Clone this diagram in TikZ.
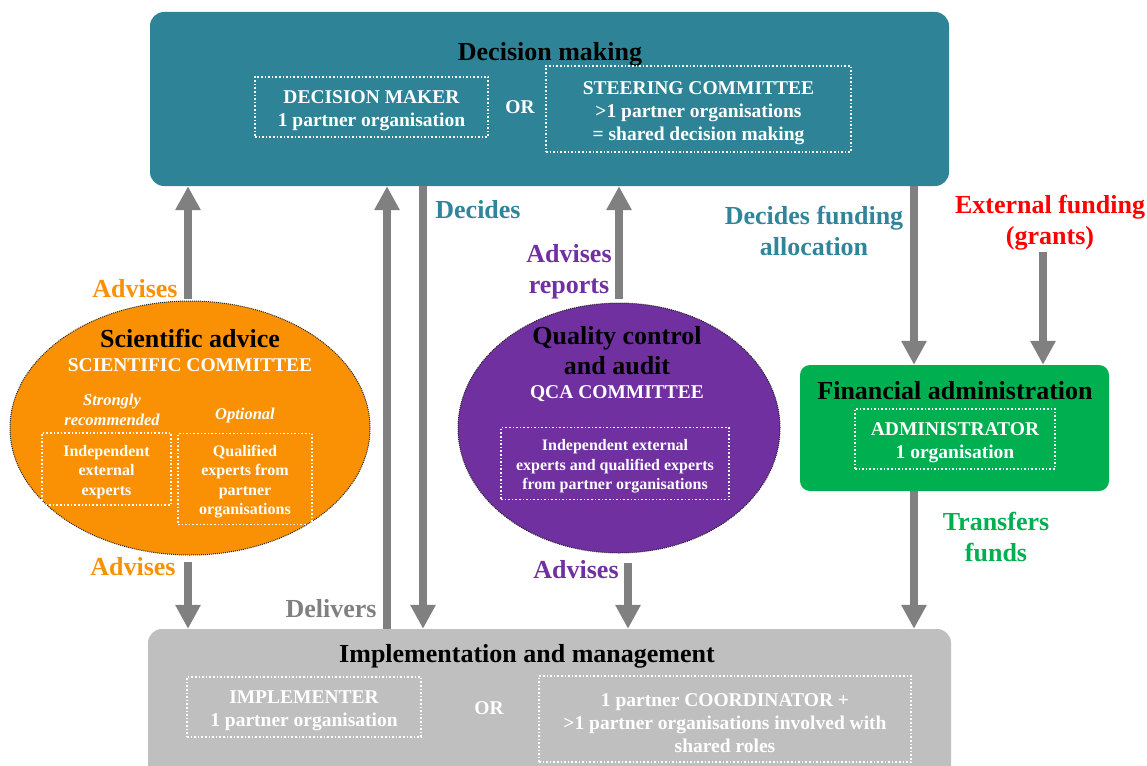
\documentclass[tikz,border=0pt]{standalone}
\usepackage{fontspec}
\setmainfont{Liberation Serif}
\usetikzlibrary{arrows.meta,shapes.geometric}

\definecolor{decteal}{RGB}{46,131,150}
\definecolor{labteal}{RGB}{49,133,155}
\definecolor{sciorange}{RGB}{250,145,5}
\definecolor{qcapurple}{RGB}{112,48,160}
\definecolor{fingreen}{RGB}{0,176,80}
\definecolor{impgray}{RGB}{191,191,191}
\definecolor{arrgray}{RGB}{128,128,128}

\newcommand\fsTitle{\fontsize{26}{30}\selectfont\bfseries}
\newcommand\fsSub{\fontsize{19.5}{23}\selectfont\bfseries}
\newcommand\fsSmall{\fontsize{16}{19.5}\selectfont\bfseries}
\newcommand\dbstrut{\rule{0pt}{1.05em}}

\tikzset{
  panel/.style={rounded corners=14pt, inner sep=0pt},
  blob/.style={ellipse, draw=black!85, dash pattern=on 1pt off 1pt, line width=1pt, inner sep=0pt},
  dotbox/.style={draw=white, line width=1.6pt, dash pattern=on 1.6pt off 2pt, text=white,
    align=center, inner sep=0pt},
  heading/.style={font=\fsTitle, align=center, text=black},
  sublabel/.style={font=\fsSub, align=center, text=white},
  flowlabel/.style={font=\fsTitle, align=center},
  flow/.style={draw=arrgray, line width=7.5pt, -{Triangle[width=24pt,length=24pt]}}
}

\begin{document}
\begin{tikzpicture}[x=1pt,y=-1pt]
\clip (0,0) rectangle (1147,765);

% decision making
\node[panel, fill=decteal, minimum width=799pt, minimum height=174pt] (decide) at (549.5,99) {};
\node[heading] (decidetitle) at (550,54) {Decision making};
\node[dotbox, font=\fsSub, minimum width=233pt, minimum height=60pt] (maker) at (371.5,107)
  {\dbstrut DECISION MAKER\\1 partner organisation};
\node[sublabel] (or1) at (520,107) {OR};
\node[dotbox, font=\fsSub, minimum width=305pt, minimum height=86pt] (steer) at (698.5,109)
  {\dbstrut STEERING COMMITTEE\\>1 partner organisations\\= shared decision making};

% implementation
\node[panel, fill=impgray, minimum width=803pt, minimum height=150pt] (implement) at (549.5,704) {};
\node[heading] (impltitle) at (527,656) {Implementation and management};
\node[dotbox, font=\fsSub, minimum width=234pt, minimum height=60pt] (implementer) at (304,707)
  {\dbstrut IMPLEMENTER\\1 partner organisation};
\node[sublabel] (or2) at (489,708) {OR};
\node[dotbox, font=\fsSub, minimum width=372pt, minimum height=86pt] (coord) at (725,719)
  {\dbstrut 1 partner COORDINATOR +\\>1 partner organisations involved with\\shared roles};

% scientific advice
\node[blob, fill=sciorange, minimum width=360pt, minimum height=254pt] (sci) at (190,428) {};
\node[heading] (scititle) at (190,338) {Scientific advice};
\node[sublabel] (scicom) at (190,365) {SCIENTIFIC COMMITTEE};
\node[font=\fontsize{16.5}{20}\selectfont\bfseries\itshape, text=white, align=center] (strong) at (112,410)
  {Strongly\\recommended};
\node[font=\fontsize{16.5}{20}\selectfont\bfseries\itshape, text=white] (optional) at (245,416) {Optional};
\node[dotbox, font=\fsSmall, minimum width=129pt, minimum height=72pt] (indep) at (106.5,469)
  {\dbstrut Independent\\external\\experts};
\node[dotbox, font=\fsSmall, minimum width=134pt, minimum height=91pt] (qualif) at (245,479)
  {\dbstrut Qualified\\experts from\\partner\\organisations};

% quality control
\node[blob, fill=qcapurple, minimum width=322pt, minimum height=250pt] (qca) at (619,428) {};
\node[heading] (qcatitle) at (617,351) {Quality control\\and audit};
\node[sublabel] (qcacom) at (617,394) {QCA COMMITTEE};
\node[dotbox, font=\fsSmall, minimum width=228pt, minimum height=72pt] (qcaexp) at (615,463.5)
  {\dbstrut Independent external\\experts and qualified experts\\from partner organisations};

% financial administration
\node[panel, rounded corners=10pt, fill=fingreen, minimum width=309pt, minimum height=126pt] (finance) at (954.5,428) {};
\node[heading] (fintitle) at (955,391) {Financial administration};
\node[dotbox, font=\fsSub, minimum width=200pt, minimum height=60pt] (admin) at (955,439)
  {\dbstrut ADMINISTRATOR\\1 organisation};

% labels
\node[flowlabel, text=sciorange] (advup) at (135,289) {Advises};
\node[flowlabel, text=sciorange] (advdown) at (133,567) {Advises};
\node[flowlabel, text=arrgray] (delivers) at (331,609) {Delivers};
\node[flowlabel, text=labteal] (decides) at (478,210) {Decides};
\node[flowlabel, text=qcapurple, font=\fontsize{26}{31}\selectfont\bfseries] (advrep) at (569,272) {Advises\\reports};
\node[flowlabel, text=qcapurple] (advqca) at (576,570) {Advises};
\node[flowlabel, text=labteal, font=\fontsize{26}{31}\selectfont\bfseries] (funding) at (814,231) {Decides funding\\allocation};
\node[flowlabel, text=red, font=\fontsize{26}{31}\selectfont\bfseries] (external) at (1050,223) {External funding\\(grants)};
\node[flowlabel, text=fingreen, font=\fontsize{26}{31}\selectfont\bfseries] (transfers) at (996,537) {Transfers\\funds};

% arrows
\coordinate (scitop) at (188,299);
\coordinate (scibot) at (188,562);
\coordinate (delx) at (387,0);
\coordinate (decx) at (423,0);
\coordinate (qcatop) at (619,299);
\coordinate (qcabot) at (628,563);
\coordinate (fundx) at (914,0);
\coordinate (grant) at (1043,252);
\draw[flow] (scitop) -- (scitop |- decide.south);
\draw[flow] (scibot) -- (scibot |- implement.north);
\draw[flow] (delx |- implement.north) -- (delx |- decide.south);
\draw[flow] (decx |- decide.south) -- (decx |- implement.north);
\draw[flow] (qcatop) -- (qcatop |- decide.south);
\draw[flow] (qcabot) -- (qcabot |- implement.north);
\draw[flow] (fundx |- decide.south) -- (fundx |- finance.north);
\draw[flow] (grant) -- (grant |- finance.north);
\draw[flow] (fundx |- finance.south) -- (fundx |- implement.north);
\end{tikzpicture}
\end{document}
